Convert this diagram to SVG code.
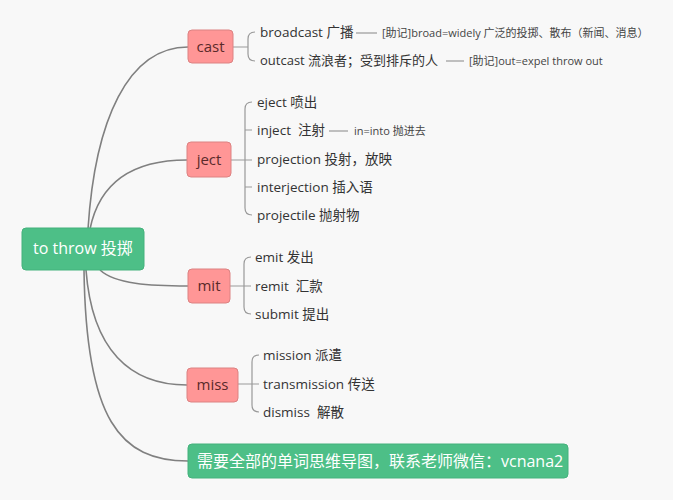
<svg xmlns="http://www.w3.org/2000/svg" width="673" height="500" viewBox="0 0 673 500">
<style>
.bg{fill:#f8f8f8}
.root{fill:#4dbf87;stroke:#45b27c;stroke-width:1}
.sub{fill:#ff9696;stroke:#dc8282;stroke-width:1}
.rt{font-family:"Open Sans","Noto Sans CJK SC",sans-serif;fill:#ffffff;font-size:16px}
.st{font-family:"Open Sans","Noto Sans CJK SC",sans-serif;fill:#5a2a2a;font-size:15px;text-anchor:middle}
.t{font-family:"Open Sans","Noto Sans CJK SC",sans-serif;fill:#333333;font-size:13.5px;white-space:pre}
.n{font-family:"Open Sans","Noto Sans CJK SC",sans-serif;fill:#444444;font-size:11px}
.c{fill:none;stroke:#808080;stroke-width:1.6}
.b{fill:none;stroke:#999999;stroke-width:1.2}
</style>
<rect class="bg" x="0" y="0" width="673" height="500"/>
<g id="connectors">
<path class="c" d="M88 229 C95 120 128 47 188 47"/>
<path class="c" d="M90 229 C100 180 135 160 187 160"/>
<path class="c" d="M100 270 C115 284 150 286 188 286"/>
<path class="c" d="M86 270 C92 350 130 385 187 385"/>
<path class="c" d="M84 270 C86 420 120 461 188 461"/>
<path class="b" d="M233 47 L248 47 M255 32 Q248 32 248 39 L248 54 Q248 61 255 61"/>
<line class="b" x1="356" y1="33" x2="377" y2="33"/>
<line class="b" x1="446" y1="61" x2="464" y2="61"/>
<path class="b" d="M231 160 L252 160 M252 102 Q245 102 245 109 L245 208 Q245 215 252 215 M245 130 L252 130 M245 187 L252 187"/>
<line class="b" x1="329" y1="131" x2="348" y2="131"/>
<path class="b" d="M230 286 L251 286 M251 257 Q244 257 244 264 L244 307 Q244 314 251 314"/>
<path class="b" d="M238 384 L259 384 M259 355 Q252 355 252 362 L252 405 Q252 412 259 412"/>
</g>
<g id="root">
<rect class="root" x="22" y="228" width="122" height="42" rx="4"/>
<text class="rt" x="33" y="254">to throw 投掷</text>
</g>
<g id="cast">
<rect class="sub" x="188" y="30" width="45" height="33" rx="4"/>
<text class="st" x="210.5" y="52">cast</text>
</g>
<g id="broadcast"><text class="t" x="260" y="37">broadcast 广播</text><text class="n" x="382" y="37">[助记]broad=widely 广泛的投掷、散布（新闻、消息）</text></g>
<g id="outcast"><text class="t" x="260" y="65" style="font-size:13px">outcast 流浪者；受到排斥的人</text><text class="n" x="469" y="65">[助记]out=expel throw out</text></g>
<g id="ject">
<rect class="sub" x="187" y="142" width="44" height="35" rx="4"/>
<text class="st" x="209" y="165">ject</text>
</g>
<g id="eject"><text class="t" x="257" y="107">eject 喷出</text></g>
<g id="inject"><text class="t" x="257" y="135" xml:space="preserve">inject  注射</text><text class="n" x="354" y="135">in=into 抛进去</text></g>
<g id="projection"><text class="t" x="257" y="164">projection 投射，放映</text></g>
<g id="interjection"><text class="t" x="257" y="192">interjection 插入语</text></g>
<g id="projectile"><text class="t" x="257" y="220">projectile 抛射物</text></g>
<g id="mit">
<rect class="sub" x="188" y="269" width="42" height="34" rx="4"/>
<text class="st" x="209" y="291">mit</text>
</g>
<g id="emit"><text class="t" x="255" y="262">emit 发出</text></g>
<g id="remit"><text class="t" x="255" y="291" xml:space="preserve">remit  汇款</text></g>
<g id="submit"><text class="t" x="255" y="319">submit 提出</text></g>
<g id="miss">
<rect class="sub" x="187" y="368" width="51" height="34" rx="4"/>
<text class="st" x="212.5" y="390">miss</text>
</g>
<g id="mission"><text class="t" x="263" y="360">mission 派遣</text></g>
<g id="transmission"><text class="t" x="263" y="389">transmission 传送</text></g>
<g id="dismiss"><text class="t" x="263" y="417" xml:space="preserve">dismiss  解散</text></g>
<g id="contact">
<rect class="root" x="188" y="444" width="380" height="34" rx="4"/>
<text class="rt" x="197" y="467">需要全部的单词思维导图，联系老师微信：vcnana2</text>
</g>
</svg>
